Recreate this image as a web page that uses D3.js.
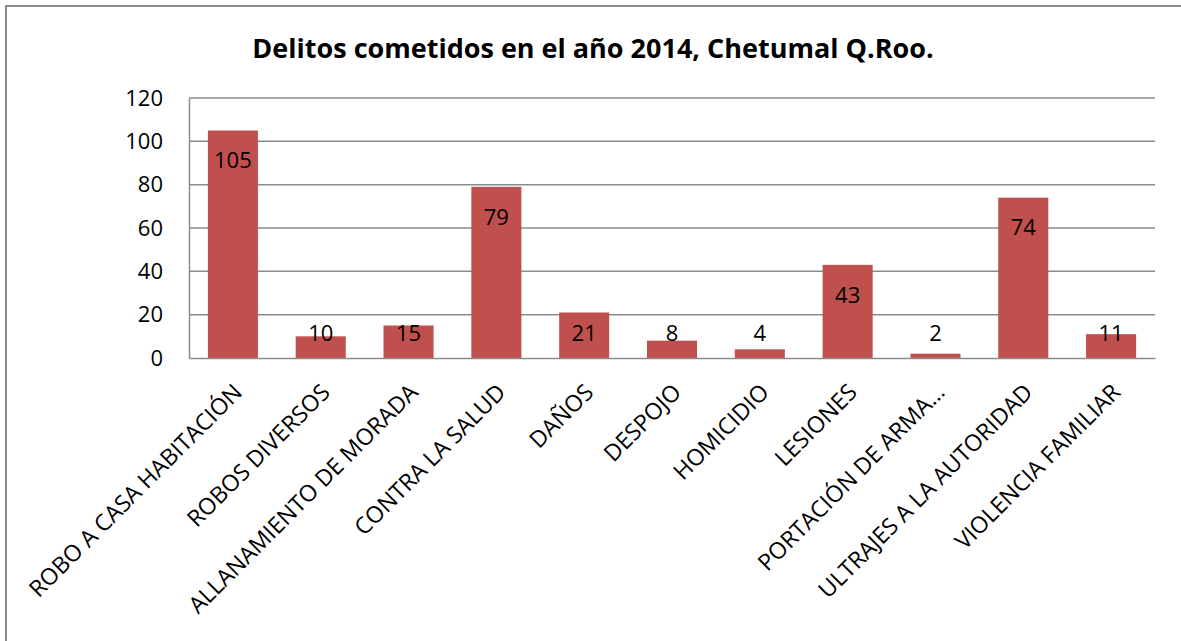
<!DOCTYPE html>
<html>
<head>
<meta charset="utf-8">
<script src="https://cdn.jsdelivr.net/npm/d3@7"></script>
<style>
  body { margin: 0; background: #fff; }
  text { font-family: "Open Sans", "DejaVu Sans", sans-serif; }
</style>
</head>
<body>
<svg id="chart" width="1181" height="641"></svg>
<script>
const categories = ['ROBO A CASA HABITACIÓN', 'ROBOS DIVERSOS', 'ALLANAMIENTO DE MORADA', 'CONTRA LA SALUD',
    'DAÑOS', 'DESPOJO', 'HOMICIDIO', 'LESIONES', 'PORTACIÓN DE ARMA…', 'ULTRAJES A LA AUTORIDAD', 'VIOLENCIA FAMILIAR'];
const values = [105, 10, 15, 79, 21, 8, 4, 43, 2, 74, 11];
const yTicks = [0, 20, 40, 60, 80, 100, 120];
const title = 'Delitos cometidos en el año 2014, Chetumal Q.Roo.';

const WIDTH = 1181;
const HEIGHT = 641;
const PLOT_LEFT = 189;
const PLOT_RIGHT = 1155;
const PLOT_TOP = 98;
const PLOT_BOTTOM = 358;
const BAR_COLOR = '#C0504D';
const GRID_COLOR = '#8c8c8c';

const svg = d3.select('#chart');

// marco del gráfico
svg.append('rect')
    .attr('x', 6).attr('y', 6)
    .attr('width', WIDTH + 20).attr('height', HEIGHT + 20)
    .attr('fill', '#fff')
    .attr('stroke', '#8a8a8a')
    .attr('stroke-width', 2);

svg.append('text')
    .text(title)
    .attr('x', 593)
    .attr('y', 58)
    .attr('text-anchor', 'middle')
    .attr('font-size', 27)
    .attr('font-weight', 'bold')
    .attr('fill', '#000');

const x = d3.scaleBand()
    .domain(categories)
    .range([PLOT_LEFT, PLOT_RIGHT])
    .paddingInner(0.43)
    .paddingOuter(0.215);

const y = d3.scaleLinear()
    .domain([0, 120])
    .range([PLOT_BOTTOM, PLOT_TOP]);

// líneas de división
svg.append('g')
    .selectAll('line')
    .data(yTicks.filter(d => d > 0))
    .join('line')
    .attr('x1', PLOT_LEFT)
    .attr('x2', PLOT_RIGHT)
    .attr('y1', d => y(d))
    .attr('y2', d => y(d))
    .attr('stroke', GRID_COLOR)
    .attr('stroke-width', 1.5);

// eje vertical
const yAxis = svg.append('g')
    .attr('transform', `translate(${PLOT_LEFT},0)`)
    .call(d3.axisLeft(y).tickValues(yTicks).tickSize(0).tickPadding(26));
yAxis.select('.domain').attr('stroke', GRID_COLOR).attr('stroke-width', 1.5);
yAxis.selectAll('text')
    .attr('font-size', 22)
    .attr('font-family', '"Open Sans", sans-serif')
    .attr('fill', '#000');

// barras
svg.append('g')
    .selectAll('rect')
    .data(values)
    .join('rect')
    .attr('x', (d, i) => x(categories[i]))
    .attr('y', d => y(d))
    .attr('width', x.bandwidth())
    .attr('height', d => y(0) - y(d))
    .attr('fill', BAR_COLOR);

// eje horizontal
const xAxis = svg.append('g')
    .attr('transform', `translate(0,${PLOT_BOTTOM})`)
    .call(d3.axisBottom(x).tickSize(0).tickFormat(''));
xAxis.select('.domain').attr('stroke', GRID_COLOR).attr('stroke-width', 1.5);

// etiquetas de categoría
svg.append('g')
    .selectAll('text')
    .data(categories)
    .join('text')
    .text(d => d)
    .attr('transform', d => `translate(${x(d) + x.bandwidth() / 2 + 5},${PLOT_BOTTOM + 30}) rotate(-45)`)
    .attr('dy', '0.35em')
    .attr('text-anchor', 'end')
    .attr('font-size', 23)
    .attr('fill', '#000');

// etiquetas de datos
svg.append('g')
    .selectAll('text')
    .data(values)
    .join('text')
    .text(d => d)
    .attr('x', (d, i) => x(categories[i]) + x.bandwidth() / 2)
    .attr('y', d => Math.min(y(d) + 30, PLOT_BOTTOM - 25))
    .attr('dy', '0.35em')
    .attr('text-anchor', 'middle')
    .attr('font-size', 22)
    .attr('fill', '#000');
</script>
</body>
</html>
